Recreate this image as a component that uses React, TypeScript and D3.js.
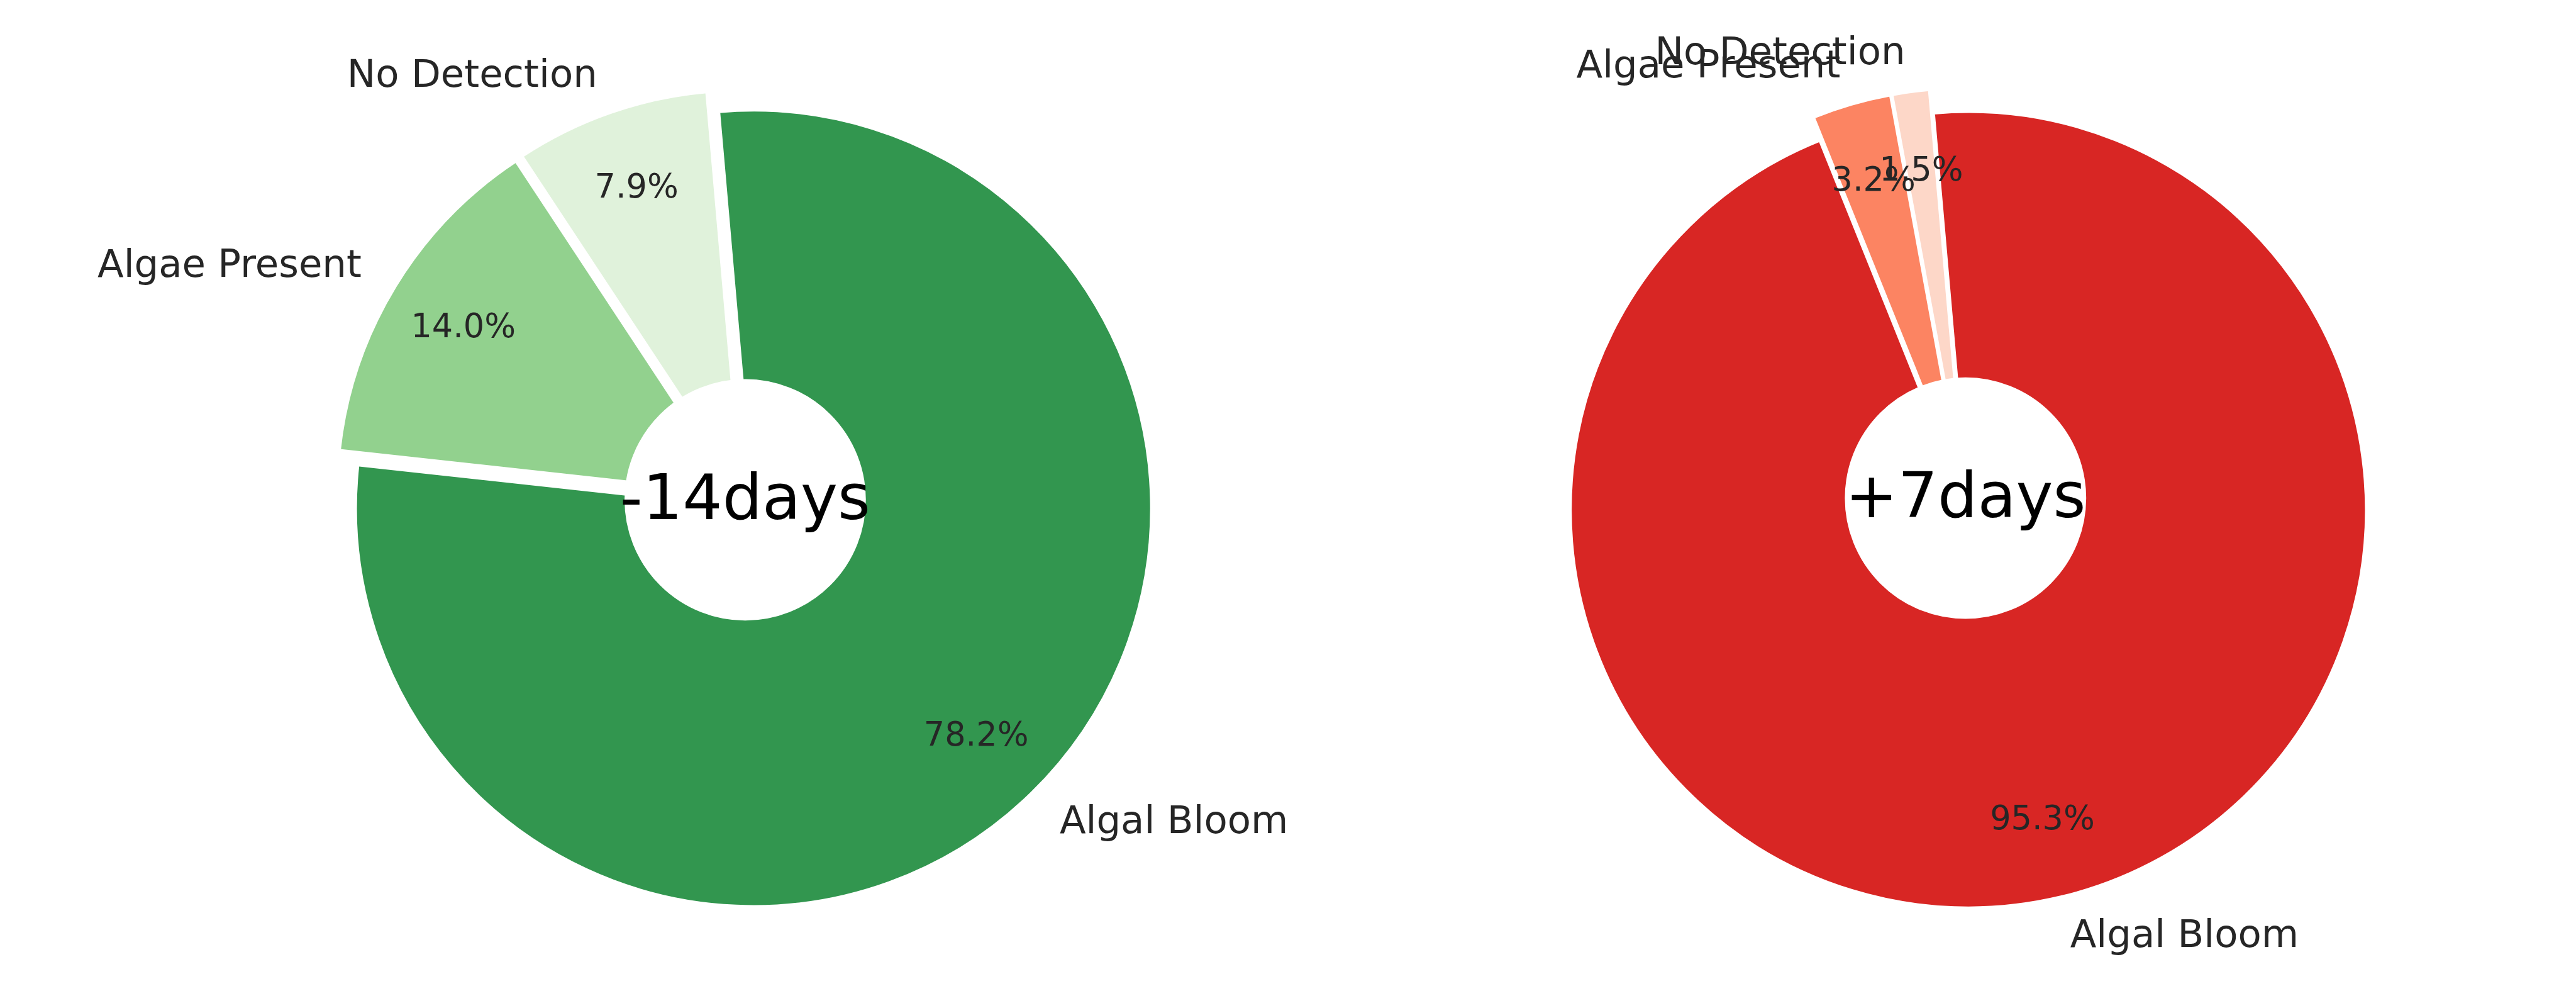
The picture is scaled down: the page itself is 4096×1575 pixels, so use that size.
import React from "react";
import * as d3 from "d3";

const categories = ["No Detection", "Algae Present", "Algal Bloom"];
const beforeValues = [7.9, 14.0, 78.2];
const afterValues = [1.5, 3.2, 95.3];
const centerTitles = ["-14days", "+7days"];
const greenColors = ["#e0f2db", "#92d18e", "#32964f"];
const redColors = ["#fdd7c8", "#fc8462", "#d82624"];

const W = 7800;
const H = 3000;
const R = 1205;
const EXPLODE = 0.03;
const HOLE = 0.3;
const START_DEG = 95; // matplotlib startangle (counter-clockwise from 3 o'clock)
const TEXT_SHIFT = -6;

type PieSpec = { cx: number; cy: number; values: number[]; colors: string[]; title: string };

function Donut({ cx, cy, values, colors, title }: PieSpec) {
  const d3Start = ((90 - START_DEG) * Math.PI) / 180;
  const pie = d3
    .pie<number>()
    .sort(null)
    .value((d) => d)
    .startAngle(d3Start)
    .endAngle(d3Start - 2 * Math.PI);
  const arcs = pie(values);
  const arcGen = d3.arc<d3.PieArcDatum<number>>().innerRadius(0).outerRadius(R);
  return (
    <g>
      {arcs.map((a, i) => {
        const mid = (a.startAngle + a.endAngle) / 2;
        const dx = Math.sin(mid);
        const dy = -Math.cos(mid);
        const ox = cx + EXPLODE * R * dx;
        const oy = cy + EXPLODE * R * dy;
        return (
          <path
            key={"w" + i}
            d={arcGen(a) || ""}
            transform={`translate(${ox},${oy})`}
            fill={colors[i]}
            stroke="#ffffff"
            strokeWidth={8}
            strokeLinejoin="miter"
          />
        );
      })}
      <circle cx={cx} cy={cy} r={HOLE * R} fill="#ffffff" stroke="#ffffff" strokeWidth={8} />
      {arcs.map((a, i) => {
        const mid = (a.startAngle + a.endAngle) / 2;
        const dx = Math.sin(mid);
        const dy = -Math.cos(mid);
        const ox = cx + EXPLODE * R * dx;
        const oy = cy + EXPLODE * R * dy;
        const lx = ox + 1.1 * R * dx;
        const ly = oy + 1.1 * R * dy + TEXT_SHIFT;
        const px = ox + 0.8 * R * dx;
        const py = oy + 0.8 * R * dy + TEXT_SHIFT;
        return (
          <g key={"t" + i}>
            <text
              x={lx}
              y={ly}
              textAnchor={lx - cx > 0 ? "start" : "end"}
              dominantBaseline="central"
              fontSize={116}
              fill="#262626"
            >
              {categories[i]}
            </text>
            <text
              x={px}
              y={py}
              textAnchor="middle"
              dominantBaseline="central"
              fontSize={100}
              fill="#262626"
            >
              {values[i].toFixed(1) + "%"}
            </text>
          </g>
        );
      })}
      <text
        x={cx}
        y={cy - 8}
        textAnchor="middle"
        dominantBaseline="central"
        fontSize={190}
        fill="#000000"
      >
        {title}
      </text>
    </g>
  );
}

export default function App() {
  return (
    <svg
      width={4096}
      height={1575}
      viewBox={`0 0 ${W} ${H}`}
      style={{ position: "fixed", left: 0, top: 0, background: "#ffffff" }}
      fontFamily="DejaVu Sans"
    >
      <rect x={0} y={0} width={W} height={H} fill="#ffffff" />
      <Donut cx={2256} cy={1513} values={beforeValues} colors={greenColors} title={centerTitles[0]} />
      <Donut cx={5952} cy={1508} values={afterValues} colors={redColors} title={centerTitles[1]} />
    </svg>
  );
}
